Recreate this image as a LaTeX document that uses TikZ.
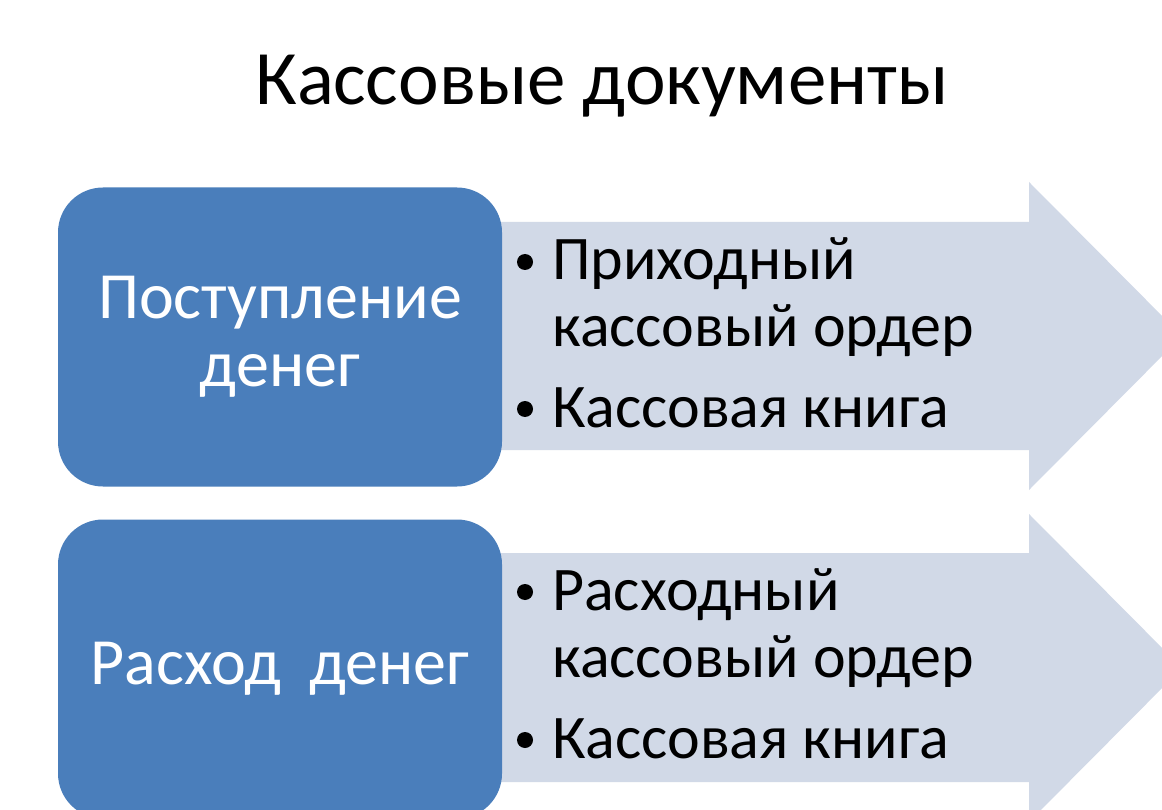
\documentclass[tikz,border=0pt]{standalone}
\usepackage{fontspec}
\setmainfont{Carlito}
\usetikzlibrary{positioning}
\definecolor{boxblue}{HTML}{4A7EBB}
\definecolor{arrowgray}{HTML}{D1D9E7}
\tikzset{
    moneybox/.style={fill=boxblue, rounded corners=45pt, minimum width=444pt, minimum height=299pt,
        text=white, align=center, font=\fontsize{66}{68}\selectfont},
    docitem/.style={anchor=base west, inner sep=0pt, font=\fontsize{62}{66}\selectfont},
    docdot/.style={circle, fill=black, inner sep=0pt, minimum size=16pt}
}

\begin{document}
\begin{tikzpicture}[x=1pt, y=-1pt]
        \useasboundingbox (0,0) rectangle (1162,810);
        \fill[white] (0,0) rectangle (1162,810);

        % arrows
        \fill[arrowgray] (480,222)--(1029,222)--(1029,182)--(1182,336)--(1029,490)--(1029,450)--(480,450)--cycle;
        \fill[arrowgray] (480,553)--(1029,553)--(1029,514)--(1182,668)--(1029,822)--(1029,782)--(480,782)--cycle;

        \node[anchor=base, font=\fontsize{77}{80}\selectfont] (title) at (602,105) {Кассовые документы};

        \node[moneybox] (income) at (280,337) {Поступление\\денег};
        \node[moneybox] (expense) at (280,669) {Расход\hspace{0.2em} денег};

        % income documents
        \node[docdot] (d1) at (525,262) {};
        \node[docitem] (in1) at (552,280) {Приходный};
        \node[docitem] (in2) at (552,346) {кассовый ордер};
        \node[docdot] (d2) at (525,409) {};
        \node[docitem] (in3) at (552,427) {Кассовая книга};

        % expense documents
        \node[docdot] (d3) at (525,592) {};
        \node[docitem] (out1) at (552,610) {Расходный};
        \node[docitem] (out2) at (552,677) {кассовый ордер};
        \node[docdot] (d4) at (525,740) {};
        \node[docitem] (out3) at (552,758) {Кассовая книга};
\end{tikzpicture}
\end{document}
